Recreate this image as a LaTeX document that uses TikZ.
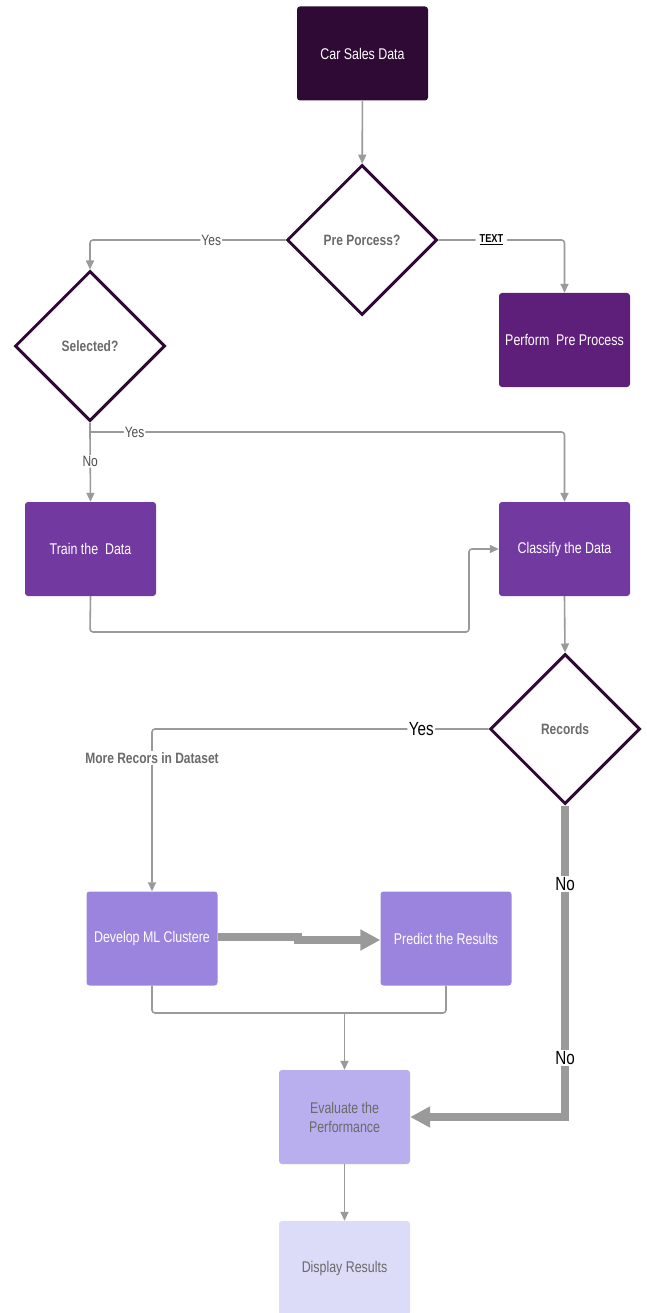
\documentclass[tikz,border=0pt]{standalone}
\usepackage{fontspec}
\setmainfont{Liberation Sans}[FakeStretch=0.8]
\usetikzlibrary{shapes.geometric,arrows.meta}
\definecolor{cdark}{HTML}{2F0A35}
\definecolor{cpre}{HTML}{5E1F7A}
\definecolor{cmid}{HTML}{7239A0}
\definecolor{clight}{HTML}{9B84DE}
\definecolor{ceval}{HTML}{B9AFEE}
\definecolor{cdisp}{HTML}{DDDCF8}
\definecolor{cline}{HTML}{9A9A9A}
\definecolor{cgtext}{HTML}{6A6A6A}
\definecolor{clbl}{HTML}{505050}
\tikzset{
  x=1pt, y=-1pt,
  boxnode/.style={rectangle, rounded corners=3pt, minimum width=131pt, minimum height=94pt, inner sep=2pt, text=white, font=\fontsize{15.5}{19}\selectfont, align=center},
  decision/.style={diamond, aspect=1, draw=cdark, line width=3pt, fill=white, minimum width=150pt, minimum height=150pt, inner sep=0pt, text=cgtext, font=\bfseries\fontsize{15}{18}\selectfont},
  conn/.style={draw=cline, line width=1.6pt, rounded corners=3pt},
  arr/.style={conn, -{Triangle[length=9pt,width=8pt]}},
  thick conn/.style={draw=cline, line width=8pt, -{Triangle[length=20pt,width=20pt]}},
  lbl/.style={fill=white, inner sep=1pt, text=clbl, font=\fontsize{15}{18}\selectfont},
  biglbl/.style={fill=white, inner sep=1.5pt, text=black, font=\fontsize{19}{22}\selectfont},
}
\begin{document}
\begin{tikzpicture}
\useasboundingbox (0,0) rectangle (646,1313);
% nodes
\node[boxnode, fill=cdark] (car) at (362.5,53.5) {Car Sales Data};
\node[decision] (pre) at (362,240) {Pre Porcess?};
\node[boxnode, fill=cpre] (perf) at (564.5,340) {Perform\ \ Pre Process};
\node[decision] (sel) at (90,346) {Selected?};
\node[boxnode, fill=cmid] (train) at (90.5,549) {Train the\ \ Data};
\node[boxnode, fill=cmid] (class) at (564.5,549) {Classify the Data};
\node[decision] (rec) at (565,729) {Records};
\node[boxnode, fill=clight] (dev) at (152,938.5) {Develop ML Clustere};
\node[boxnode, fill=clight] (pred) at (446,938.5) {Predict the Results};
\node[boxnode, fill=ceval, text=cgtext] (eval) at (344.5,1117) {Evaluate the\\Performance};
\node[boxnode, fill=cdisp, text=cgtext] (disp) at (344.5,1268) {Display Results};
% connectors
\draw[arr] (car) -- (pre);
\draw[arr] (pre.west) -| node[pos=0.19, lbl] {Yes} (sel.north);
\draw[arr] (pre.east) -| node[pos=0.21, fill=white, inner sep=4pt, font=\bfseries\fontsize{11.5}{13}\selectfont, text=black] {\underline{TEXT}} (perf.north);
\coordinate (sy) at (90,432);
\draw[conn] (sel.south) -- (sy);
\draw[arr] (sy) -| node[pos=0.047, lbl] {Yes} (class.north);
\draw[arr] (sy) -- node[pos=0.42, lbl] {No} (train.north);
\coordinate (tb) at (90,632);
\coordinate (tr) at (469,632);
\draw[arr] (train.south) -- (tb) -- (tr) |- (class.west);
\draw[arr] (class.south) -- (rec.north);
\draw[arr] (rec.west) -| node[pos=0.1, biglbl] {Yes} (dev.north);
\node[lbl, text=cgtext] (more) at (152,758) {\bfseries More Recors in Dataset};
\coordinate (dv1) at (218,937);
\coordinate (dv2) at (298,937);
\coordinate (dv3) at (298,940);
\draw[thick conn] (dv1) -- (dv2) -- (dv3) -- (pred.west |- dv3);
\coordinate (jn) at (344.5,1013);
\draw[conn] (dev.south) |- (jn) -| (pred.south);
\draw[arr] (jn) -- (eval.north);
\draw[thick conn] (rec.south) |- (eval.east);
\node[biglbl] (no1) at (565,884) {No};
\node[biglbl] (no2) at (565,1058) {No};
\draw[arr] (eval.south) -- (disp.north);
\end{tikzpicture}
\end{document}
